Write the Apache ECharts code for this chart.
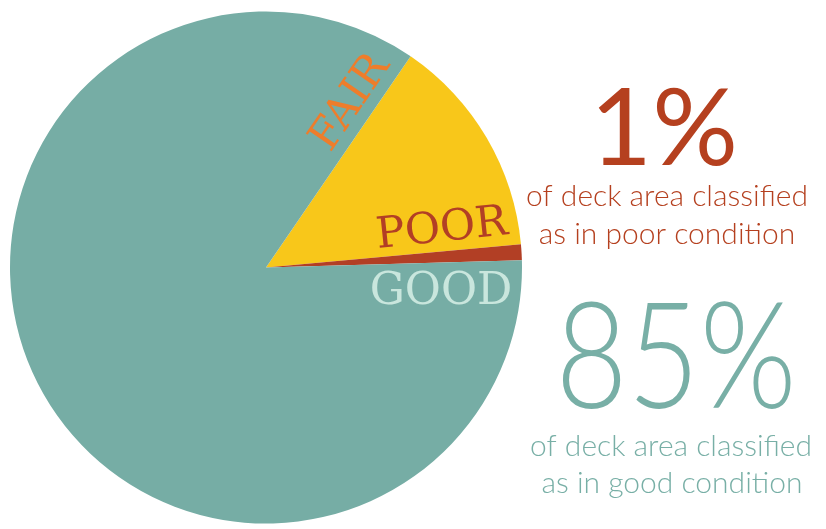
<!DOCTYPE html>
<html><head><meta charset="utf-8">
<script src="https://cdn.jsdelivr.net/npm/echarts@6/dist/echarts.min.js"></script>
<style>html,body{margin:0;padding:0;background:#fff}#c{width:826px;height:529px}</style>
</head><body><div id="c"></div>
<script>
const categories = ['FAIR', 'POOR', 'GOOD'];
const values = [14, 1, 85];
const colors = ['#F8C71A', '#B23F25', '#76ADA5'];
const labelColors = ['#EE7D2B', '#B23F25', '#C9E6DD'];
const poorHeadline = '1%';
const poorText = ['of deck area classified', 'as in poor condition'];
const goodHeadline = '85%';
const goodText = ['of deck area classified', 'as in good condition'];

const chart = echarts.init(document.getElementById('c'), null, {renderer: 'canvas'});
const deg = Math.PI / 180;
const sans = 'Lato, "Open Sans", sans-serif';
const slab = '"DejaVu Serif", "Liberation Serif", serif';
function txt(t, x, y, size, color, font, rot, weight, sx) {
  return {type: 'text', x: x, y: y, z: 100, rotation: (rot || 0) * deg, scaleX: sx || 1,
    style: {text: t, x: 0, y: 0, align: 'center', verticalAlign: 'middle',
      fontSize: size, fill: color, fontFamily: font, fontWeight: weight || 'normal'}};
}
chart.setOption({
  animation: false,
  series: [{
    type: 'pie',
    center: [266, 267.5],
    radius: [0, 256],
    startAngle: 55.6,
    clockwise: true,
    label: {show: false},
    labelLine: {show: false},
    itemStyle: {borderWidth: 0},
    emphasis: {disabled: true},
    data: categories.map((c, i) => ({name: c, value: values[i], itemStyle: {color: colors[i]}}))
  }],
  graphic: [
    txt(categories[0], 351, 103, 43, labelColors[0], slab, 55.6),
    txt(categories[1], 442, 230, 43, labelColors[1], slab, 6),
    txt(categories[2], 441, 293, 44, labelColors[2], slab, 0),
    txt(poorHeadline, 664, 130, 107, '#B5401F', sans, 0, 400),
    txt(poorText[0], 667, 196, 30, '#B5401F', sans, 0, 300),
    txt(poorText[1], 667, 234, 30, '#B5401F', sans, 0, 300),
    txt(goodHeadline, 676, 360, 148, '#78AFA6', sans, 0, 300, 0.84),
    txt(goodText[0], 671, 446, 30, '#78AFA6', sans, 0, 300),
    txt(goodText[1], 672, 483, 30, '#78AFA6', sans, 0, 300)
  ]
});
</script></body></html>
